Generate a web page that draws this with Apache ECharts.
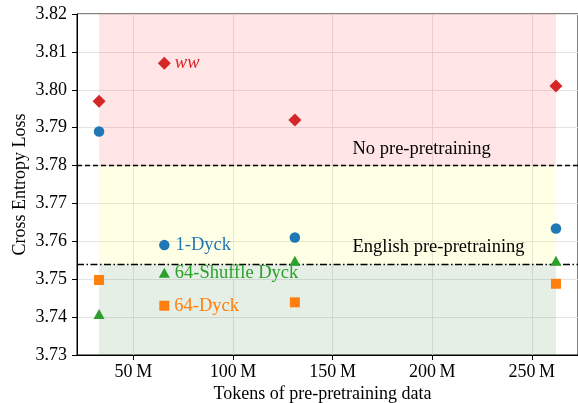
<!DOCTYPE html>
<html>
<head>
<meta charset="utf-8">
<script src="https://cdn.jsdelivr.net/npm/echarts@6/dist/echarts.min.js"></script>
<style>
  html, body { margin: 0; padding: 0; background: #fff; }
  #chart { width: 578px; height: 403px; }
</style>
</head>
<body>
<div id="chart"></div>
<script>
// tokens of pre-pretraining data (millions)
const tokens = [32.77, 65.54, 131.07, 262.14]

// cross entropy loss per pre-pretraining language
const lossWW = [3.797, 3.807, 3.792, 3.801]
const loss1Dyck = [3.789, 3.759, 3.761, 3.7634]
const lossShuffle = [3.7408, 3.7517, 3.7549, 3.7549]
const loss64Dyck = [3.7498, 3.7430, 3.7439, 3.7488]

// reference baselines
const noPrepretrain = 3.78
const englishPrepretrain = 3.754
const baselineNames = ['No pre-pretraining', 'English pre-pretraining']
const baselineLabelPos = [[160, 3.7844], [160, 3.7585]]

const yMin = 3.73, yMax = 3.82
const xMin = 21.7, xMax = 273.2

const FONT = '"Liberation Serif", "DejaVu Serif", serif'
const diamond = 'path://M0,-1 L1,0 L0,1 L-1,0 Z'

function pts(ys) {
  return tokens.map((t, i) => [t, ys[i]])
}

// label only the second point of each series, with the series name
function labelled(ys, color, italic, dist) {
  return pts(ys).map((p, i) => i !== 1 ? p : {
    value: p,
    label: {
      show: true, position: 'right', distance: dist,
      formatter: '{a}', color, fontFamily: FONT, fontSize: 18.5,
      fontStyle: italic ? 'italic' : 'normal'
    }
  })
}

function hline(y, type) {
  return [
    { coord: [xMin, y], lineStyle: { color: '#000', width: 1.3, type } },
    { coord: [xMax, y] }
  ]
}

const series = [
  {
    name: 'bands', type: 'scatter', data: [], silent: true,
    markArea: {
      silent: true,
      data: [
        [{ coord: [tokens[0], noPrepretrain], itemStyle: { color: 'rgba(255,0,0,0.1)' } }, { coord: [tokens[3], yMax] }],
        [{ coord: [tokens[0], englishPrepretrain], itemStyle: { color: 'rgba(255,255,0,0.1)' } }, { coord: [tokens[3], noPrepretrain] }],
        [{ coord: [tokens[0], yMin], itemStyle: { color: 'rgba(20,110,20,0.11)' } }, { coord: [tokens[3], englishPrepretrain] }]
      ]
    },
    markLine: {
      silent: true, symbol: 'none', label: { show: false },
      data: [
        hline(noPrepretrain, [5, 3]),
        hline(englishPrepretrain, [7, 2.5, 1.5, 2.5])
      ]
    },
    z: 1
  },
  {
    name: 'notes', type: 'scatter', symbolSize: 0, silent: true,
    itemStyle: { opacity: 1 },
    data: baselineLabelPos.map((p, i) => ({
      value: p,
      label: {
        show: true, position: 'right', distance: 0, formatter: baselineNames[i],
        color: '#000', opacity: 1, fontFamily: FONT, fontSize: 18.5
      }
    })),
    z: 3
  },
  {
    name: 'ww', type: 'scatter', symbol: diamond, symbolSize: 13,
    itemStyle: { color: '#d62728', opacity: 1 }, data: labelled(lossWW, '#d62728', true, 4), z: 5
  },
  {
    name: '1-Dyck', type: 'scatter', symbol: 'circle', symbolSize: 10.5,
    itemStyle: { color: '#1f77b4', opacity: 1 }, data: labelled(loss1Dyck, '#1f77b4', false, 6), z: 5
  },
  {
    name: '64-Shuffle Dyck', type: 'scatter', symbol: 'triangle', symbolSize: [11, 10],
    itemStyle: { color: '#2ca02c', opacity: 1 }, data: labelled(lossShuffle, '#2ca02c', false, 5), z: 5
  },
  {
    name: '64-Dyck', type: 'scatter', symbol: 'rect', symbolSize: 10,
    itemStyle: { color: '#ff7f0e', opacity: 1 }, data: labelled(loss64Dyck, '#ff7f0e', false, 5), z: 5
  }
]

const chart = echarts.init(document.getElementById('chart'))
chart.setOption({
  animation: false,
  backgroundColor: '#fff',
  textStyle: { fontFamily: FONT },
  grid: {
    left: 77, right: 0, top: 14, bottom: 48,
    outerBoundsMode: 'none', containLabel: false,
    show: true, borderColor: '#000', borderWidth: 1, backgroundColor: 'transparent'
  },
  xAxis: {
    type: 'value', min: xMin, max: xMax,
    name: 'Tokens of pre-pretraining data', nameLocation: 'middle', nameGap: 30,
    nameMoveOverlap: false,
    nameTextStyle: { color: '#000', fontSize: 18, fontFamily: FONT, padding: [0, 10, 0, 0] },
    axisLine: { show: true, lineStyle: { color: '#000', width: 1 } },
    axisTick: { show: true, length: 5, lineStyle: { color: '#000' } },
    axisLabel: {
      color: '#000', fontSize: 18, fontFamily: FONT, margin: 8,
      showMinLabel: false, showMaxLabel: false,
      formatter: v => v + '\u2009M'
    },
    splitLine: { show: true, lineStyle: { color: '#e4e4e4', width: 1 } }
  },
  yAxis: {
    type: 'value', min: yMin, max: yMax, interval: 0.01,
    name: 'Cross Entropy Loss', nameLocation: 'middle', nameGap: 48,
    nameMoveOverlap: false,
    nameTextStyle: { color: '#000', fontSize: 18, fontFamily: FONT },
    axisLine: { show: true, lineStyle: { color: '#000', width: 1 } },
    axisTick: { show: true, length: 5, lineStyle: { color: '#000' } },
    axisLabel: {
      color: '#000', fontSize: 18, fontFamily: FONT, margin: 10,
      formatter: v => v.toFixed(2)
    },
    splitLine: { show: true, lineStyle: { color: '#e4e4e4', width: 1 } }
  },
  series
})
</script>
</body>
</html>
